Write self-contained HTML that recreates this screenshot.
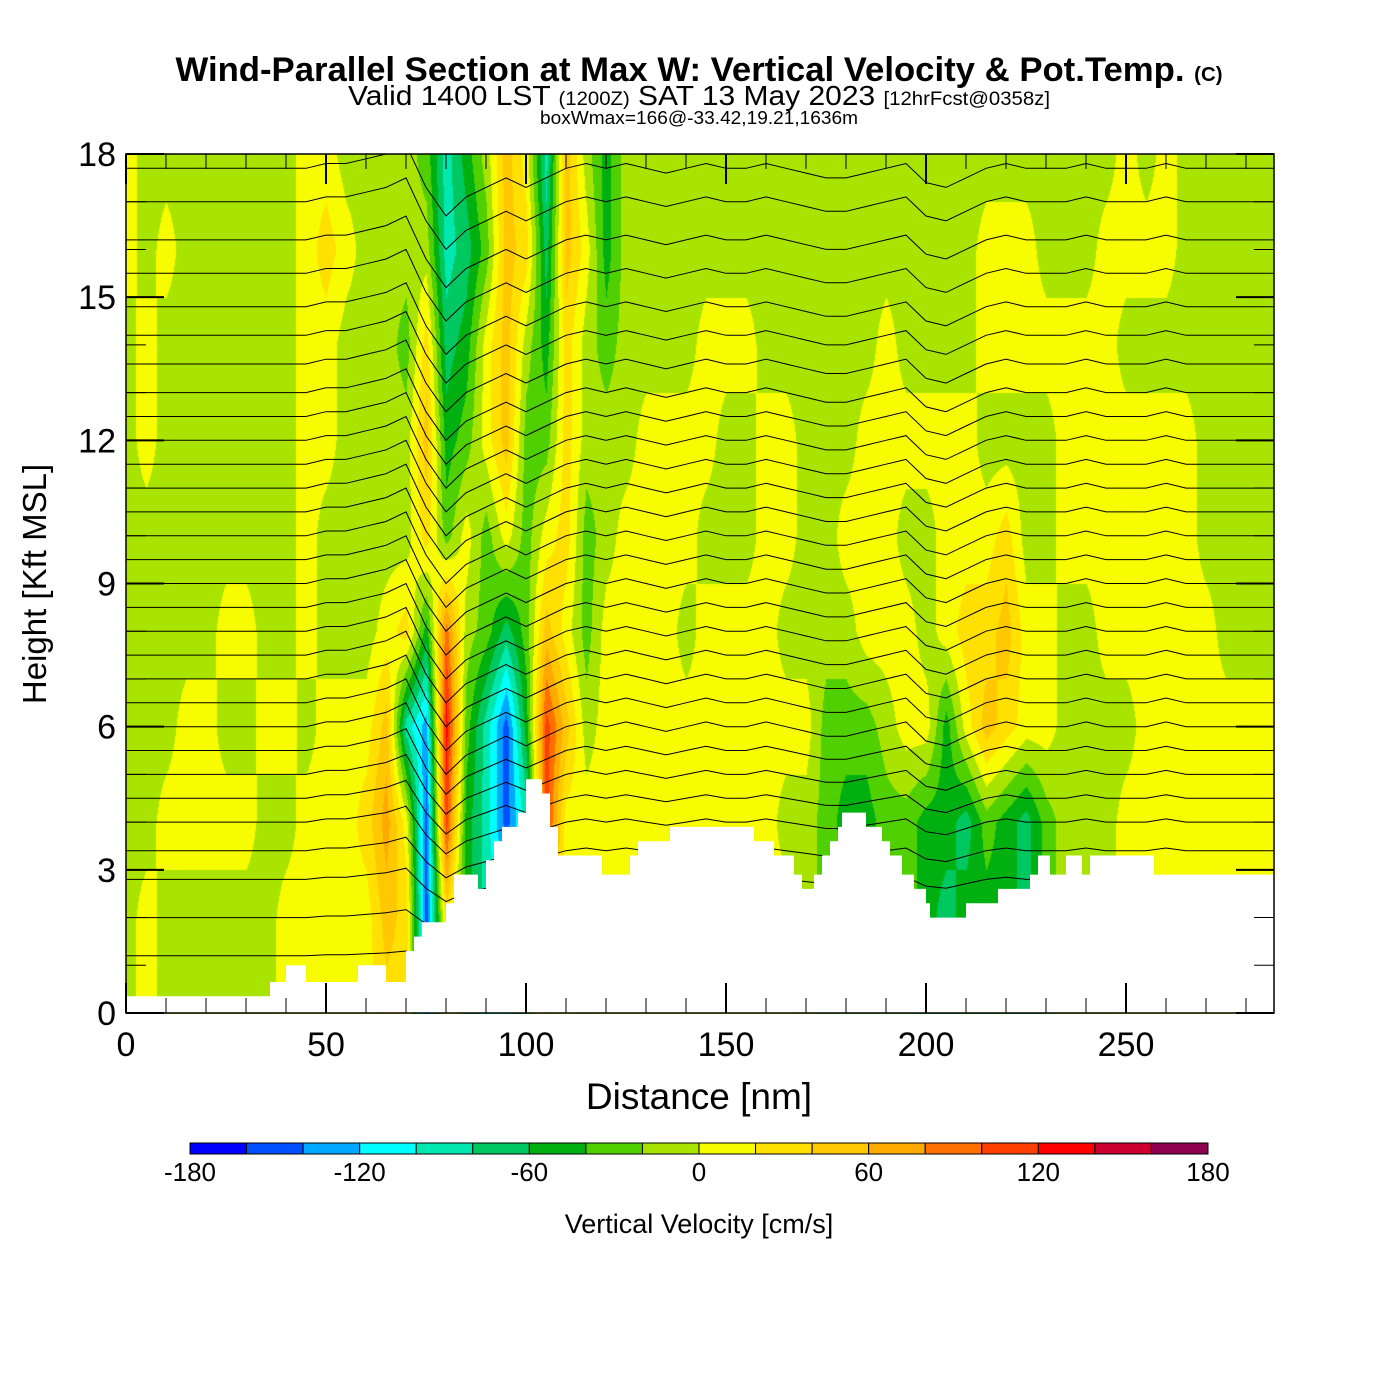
<!DOCTYPE html>
<html><head><meta charset="utf-8"><style>
body{margin:0;background:#fff;width:1400px;height:1400px;overflow:hidden;font-family:"Liberation Sans",sans-serif}
#wrap{position:relative;width:1400px;height:1400px}
canvas{position:absolute;left:126px;top:154px}
svg{position:absolute;left:0;top:0}
</style></head><body>
<div id="wrap">
<canvas id="cv" width="1148" height="860"></canvas>
<svg id="sv" width="1400" height="1400">
<defs><clipPath id="plotclip"><rect x="126" y="154" width="1148" height="859"/></clipPath></defs>
<text x="699" y="81" text-anchor="middle" font-size="34" font-weight="bold" textLength="1047" lengthAdjust="spacingAndGlyphs">Wind-Parallel Section at Max W: Vertical Velocity &amp; Pot.Temp. <tspan font-size="20">(C)</tspan></text>
<text x="699" y="105" text-anchor="middle" font-size="28" textLength="702" lengthAdjust="spacingAndGlyphs">Valid 1400 LST <tspan font-size="19">(1200Z)</tspan> SAT 13 May 2023 <tspan font-size="19">[12hrFcst@0358z]</tspan></text>
<text x="699" y="124" text-anchor="middle" font-size="18" textLength="318" lengthAdjust="spacingAndGlyphs">boxWmax=166@-33.42,19.21,1636m</text>
<text x="699" y="1109" text-anchor="middle" font-size="37">Distance [nm]</text>
<text transform="translate(46,584) rotate(-90)" text-anchor="middle" font-size="33">Height [Kft MSL]</text>
<text x="699" y="1233" text-anchor="middle" font-size="27">Vertical Velocity [cm/s]</text>
</svg>
</div>
<script>
const xNodes=[0,5,10,15,20,25,30,35,40,45,50,55,60,65,70,75,80,85,90,95,100,105,110,115,120,125,130,135,140,145,150,155,160,165,170,175,180,185,190,195,200,205,210,215,220,225,230,235,240,245,250,255,260,265,270,275,280,285,290];
const hNodes=[18,16,14,12,10,8,6,4,2,0];
const w18=[10,-10,-10,-10,-10,-10,-10,-10,-10,10,10,-10,-10,-10,-10,-30,-90,-50,-10,50,10,-90,50,-10,-50,-10,-10,-10,-10,-10,-10,-10,-10,-10,-10,-10,-10,-10,-10,-10,-10,-10,-10,-10,-10,-10,-10,-10,-10,-10,10,-10,10,-10,-10,-10,-10,-10,-10];
const w16=[10,-10,10,-10,-10,-10,-10,-10,-10,10,30,10,-10,-10,-10,-10,-90,-70,-30,50,30,-70,50,10,-50,-10,-10,-10,-10,-10,-10,-10,-10,-10,-10,-10,-10,-10,-10,-10,-10,-10,-10,10,10,10,-10,-10,-10,10,10,10,10,-10,-10,-10,-10,-10,-10];
const w14=[-10,10,-10,-10,-10,-10,-10,-10,-10,10,10,-10,-10,-10,-30,30,-70,-50,10,50,-10,-50,30,-10,-30,-10,-10,-10,-10,10,10,10,-10,-10,-10,-10,-10,-10,10,-10,-10,-10,-10,10,10,10,10,10,10,10,-10,-10,-10,-10,-10,-10,-10,-10,-10];
const w12=[-10,10,-10,-10,-10,-10,-10,-10,-10,10,10,-10,-10,-10,-10,50,-50,-30,10,50,-30,-30,30,-10,-10,-10,10,10,10,10,-10,-10,10,10,-10,-10,-10,10,10,10,10,10,10,-10,-10,-10,-10,10,10,10,10,10,10,10,-10,-10,-10,-10,-10];
const w10=[-10,-10,-10,-10,-10,-10,-10,-10,-10,10,-10,-10,-10,-10,-10,30,-30,10,-30,10,-30,10,30,-30,-10,10,10,10,10,-10,-10,-10,10,10,-10,-10,10,10,10,-10,-10,10,10,10,30,-10,-10,10,10,10,10,10,10,10,-10,-10,-10,-10,-10];
const w8=[-10,-10,-10,-10,-10,10,10,-10,-10,10,-10,-10,-10,10,30,-50,90,-10,-30,-70,-30,50,10,-30,10,10,10,10,-10,10,10,10,10,-10,-10,-10,-10,10,10,10,-10,10,30,30,50,10,10,-10,-10,10,10,10,10,10,10,-10,-10,-10,-10];
const w6=[-10,-10,-10,10,10,-10,-10,10,10,-10,10,10,10,50,-90,-130,130,-30,-90,-150,-50,110,50,-10,10,10,10,10,10,10,10,10,10,10,10,-30,-30,-30,-10,10,10,-50,10,50,30,10,10,-10,-10,-10,-10,10,10,10,10,10,10,10,10];
const w4=[-10,-10,10,10,10,10,10,-10,-10,10,10,10,30,70,10,-150,110,-50,-90,-150,-90,110,10,10,10,10,10,10,10,10,10,10,10,-10,-10,-30,-50,-50,-30,-30,-50,-50,-70,-30,-50,-70,-30,-10,-10,-10,10,10,10,10,10,10,10,10,10];
const w2=[-10,10,-10,-10,-10,-10,-10,-10,10,10,10,10,10,50,30,-150,30,-50,-90,-90,-50,50,10,-10,10,10,10,10,10,10,10,10,10,10,-10,-30,-30,-30,-30,-30,-50,-70,-50,-50,-50,-70,-30,-10,-10,-10,10,10,10,10,10,10,10,10,10];
const w0=[-10,10,-10,-10,-10,-10,-10,-10,10,10,10,10,10,30,30,-150,30,-50,-90,-90,-50,50,10,-10,10,10,10,10,10,10,10,10,10,10,-10,-30,-30,-30,-30,-30,-50,-70,-50,-50,-50,-70,-30,-10,-10,-10,10,10,10,10,10,10,10,10,10];
const wRows=[w18,w16,w14,w12,w10,w8,w6,w4,w2,w0];
const terrainX=[0,36,40,45,58,65,70,72,74,80,82,88,90,92,94,98,100,104,106,108,119,126,128,136,157,162,167,169,172,174,176,178,179,185,189,191,194,197,200,201,210,218,226,228,231,235,239,241,257];
const terrainH=[0.35,0.65,1.0,0.65,1.0,0.65,1.3,1.6,1.9,2.3,2.9,2.6,3.2,3.6,3.9,4.2,4.9,4.6,3.9,3.3,2.9,3.3,3.6,3.9,3.6,3.3,2.9,2.6,2.9,3.3,3.6,3.9,4.2,3.9,3.6,3.3,2.9,2.6,2.3,2.0,2.3,2.6,2.9,3.3,2.9,3.3,2.9,3.3,2.9];
const thetaBase=[1.2,2.0,2.8,3.4,4.0,4.5,5.0,5.5,6.0,6.5,7.0,7.5,8.0,8.5,9.0,9.5,10.0,10.5,11.0,11.5,12.0,12.5,13.0,13.6,14.2,14.8,15.5,16.2,17.0,17.7];
const thetaDisp=[0,0,0,0,0,0,0,0,0,0,0.1,0.1,0.2,0.3,0.5,-0.4,-1.0,-0.6,-0.4,-0.2,-0.4,-0.2,0,0.1,0,0.1,0,-0.1,0,0.1,0,0,0.1,0,-0.1,-0.2,-0.2,-0.1,0,0.1,-0.3,-0.4,-0.2,0,0.1,0,0,0,0.1,0,0,0,0.1,0,0,0,0,0,0];
const cbLevels=[-180,-160,-140,-120,-100,-80,-60,-40,-20,0,20,40,60,80,100,120,140,160,180];
const cbColors=["#0000ff","#0050ff","#00a8ff","#00ffff","#00e8b0","#00c860","#00b010","#50d000","#a8e400","#f8fc00","#ffe000","#ffc800","#ffaa00","#ff7000","#ff4000","#ff0000","#cc0030","#900050"];
const xTicks=[0,50,100,150,200,250];
const yTicks=[0,3,6,9,12,15,18];
const cbTickLabels=[-180,-120,-60,0,60,120,180];

const X0=126,X1=1274,Y0=1013,Y1=154,XMAX=287,YMAX=18;
const xs=d=>X0+(d/XMAX)*(X1-X0);
const ys=h=>Y0-(h/YMAX)*(Y0-Y1);
const NS='http://www.w3.org/2000/svg';
const sv=document.getElementById('sv');
function mk(t,a){const e=document.createElementNS(NS,t);for(const k in a)e.setAttribute(k,a[k]);sv.appendChild(e);return e;}
function hex(c){return [parseInt(c.slice(1,3),16),parseInt(c.slice(3,5),16),parseInt(c.slice(5,7),16)];}
const rgb=cbColors.map(hex);
function colorIdx(v){let i=Math.floor((v-cbLevels[0])/20);return Math.max(0,Math.min(17,i));}
function wAt(d,h){
  let i=Math.min(xNodes.length-2,Math.floor(d/5));let fx=(d-xNodes[i])/5;
  let hr=(18-h)/2;let j=Math.min(hNodes.length-2,Math.floor(hr));let fy=hr-j;
  const a=wRows[j][i],b=wRows[j][i+1],c=wRows[j+1][i],e=wRows[j+1][i+1];
  return (a*(1-fx)+b*fx)*(1-fy)+(c*(1-fx)+e*fx)*fy;
}
const cv=document.getElementById('cv');const ctx=cv.getContext('2d');
const W=cv.width,H=cv.height;const img=ctx.createImageData(W,H);
for(let py=0;py<H;py++){const h=(Y0-(Y1+py))/(Y0-Y1)*YMAX;
  for(let px=0;px<W;px++){const d=px/(X1-X0)*XMAX;const c=rgb[colorIdx(wAt(d,h))];const k=(py*W+px)*4;
    img.data[k]=c[0];img.data[k+1]=c[1];img.data[k+2]=c[2];img.data[k+3]=255;}}
ctx.putImageData(img,0,0);
const tg=mk('g',{'clip-path':'url(#plotclip)'});
thetaBase.forEach((b)=>{
  const wt=Math.min(1,b/6);
  let p='';xNodes.forEach((x,i)=>{const h=b+thetaDisp[i]*wt;p+=(i?'L':'M')+xs(x).toFixed(1)+','+ys(h).toFixed(1);});
  const e=document.createElementNS(NS,'path');
  e.setAttribute('d',p);e.setAttribute('fill','none');e.setAttribute('stroke','#000');e.setAttribute('stroke-width','1');
  
  
  tg.appendChild(e);
});
let tp='M'+xs(0)+','+Y0;
terrainX.forEach((x,i)=>{const x2=i<terrainX.length-1?terrainX[i+1]:XMAX;tp+='L'+xs(x).toFixed(1)+','+ys(terrainH[i]).toFixed(1)+'L'+xs(x2).toFixed(1)+','+ys(terrainH[i]).toFixed(1);});
tp+='L'+X1+','+Y0+'Z';
const terr=mk('path',{d:tp,fill:'#fff',stroke:'none'});


const fr=mk('rect',{x:X0,y:Y1,width:X1-X0,height:Y0-Y1,fill:'none',stroke:'#000','stroke-width':1.5});


for(let d=0;d<=280;d+=10){const maj=d%50===0;const L=maj?30:15;
  const t1=mk('line',{x1:xs(d),x2:xs(d),y1:Y0,y2:Y0-L,stroke:'#000','stroke-width':maj?2:1});
  
  const t2=mk('line',{x1:xs(d),x2:xs(d),y1:Y1,y2:Y1+L,stroke:'#000','stroke-width':maj?2:1});
  }
for(let h=0;h<=18;h+=1){const maj=h%3===0;const L=maj?38:20;
  const t1=mk('line',{x1:X0,x2:X0+L,y1:ys(h),y2:ys(h),stroke:'#000','stroke-width':maj?2:1});
  
  const t2=mk('line',{x1:X1,x2:X1-L,y1:ys(h),y2:ys(h),stroke:'#000','stroke-width':maj?2:1});
  }
xTicks.forEach(v=>{const t=mk('text',{x:xs(v),y:1056,'text-anchor':'middle','font-size':34});t.textContent=v;
  });
yTicks.forEach(v=>{const t=mk('text',{x:116,y:ys(v)+12,'text-anchor':'end','font-size':34});t.textContent=v;
  });
const CB0=190,CB1=1208,CBY=1143,CBH=11;const cbx=v=>CB0+(v-cbLevels[0])/(cbLevels[cbLevels.length-1]-cbLevels[0])*(CB1-CB0);
cbColors.forEach((c,i)=>{const r=mk('rect',{x:cbx(cbLevels[i]),y:CBY,width:cbx(cbLevels[i+1])-cbx(cbLevels[i]),height:CBH,fill:c,stroke:'#000','stroke-width':1});
  });
cbTickLabels.forEach(v=>{const t=mk('text',{x:cbx(v),y:1181,'text-anchor':'middle','font-size':26});t.textContent=v;
  });
</script>
</body></html>
